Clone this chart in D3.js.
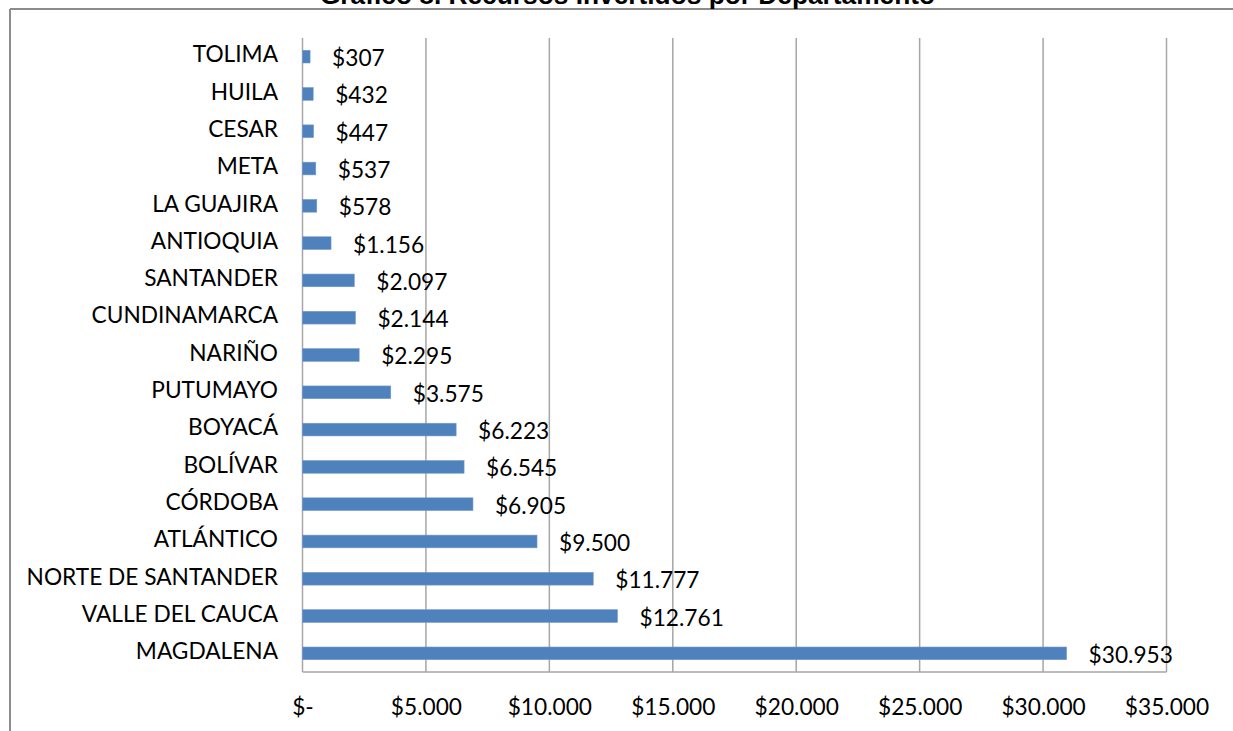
<!DOCTYPE html>
<html><head><meta charset="utf-8">
<script src="https://cdn.jsdelivr.net/npm/d3@7"></script>
<style>body{margin:0;background:#fff}svg{display:block}</style>
</head><body>
<svg id="c" width="1233" height="731"></svg>
<script>
const title = "Gráfico 8. Recursos Invertidos por Departamento";
const categories = ["TOLIMA","HUILA","CESAR","META","LA GUAJIRA","ANTIOQUIA","SANTANDER","CUNDINAMARCA","NARIÑO","PUTUMAYO","BOYACÁ","BOLÍVAR","CÓRDOBA","ATLÁNTICO","NORTE DE SANTANDER","VALLE DEL CAUCA","MAGDALENA"];
const values = [307,432,447,537,578,1156,2097,2144,2295,3575,6223,6545,6905,9500,11777,12761,30953];
const ticks = [0,5000,10000,15000,20000,25000,30000,35000];

const svg = d3.select("#c");
const font = "Lato, 'Open Sans', sans-serif";
const fs = 22.7;
const fmt = v => v === 0 ? "$-" : "$" + d3.format(",")(v).replace(/,/g, ".");

const x = d3.scaleLinear().domain([0, 35000]).range([302.5, 1166.5]);
const y = d3.scaleBand().domain(categories).range([38, 672]).paddingInner(0.66).paddingOuter(0.33);

// outer chart border (top & left visible)
svg.append("line").attr("x1",10).attr("x2",1233).attr("y1",9).attr("y2",9).attr("stroke","#8c8c8c").attr("stroke-width",2);
svg.append("line").attr("x1",10).attr("x2",10).attr("y1",9).attr("y2",731).attr("stroke","#8c8c8c").attr("stroke-width",2);

// title (cut off at top, as in the reference)
svg.append("text").attr("x",627.5).attr("y",4).attr("text-anchor","middle")
  .attr("font-family","Arial, 'Liberation Sans', sans-serif").attr("font-weight","bold").attr("font-size",26.3)
  .attr("fill","#000").text(title);

// gridlines
svg.append("g").selectAll("line").data(ticks).join("line")
  .attr("x1", d => x(d)).attr("x2", d => x(d)).attr("y1", 38).attr("y2", 672)
  .attr("stroke", "#a6a6a6").attr("stroke-width", 1.5);
// bottom axis line
svg.append("line").attr("x1", x(0)).attr("x2", x(35000)).attr("y1", 672).attr("y2", 672)
  .attr("stroke", "#a6a6a6").attr("stroke-width", 1.5);

// x tick labels via axis
const xAxis = d3.axisBottom(x).tickValues(ticks).tickFormat(fmt).tickSize(0).tickPadding(0);
const gx = svg.append("g").attr("transform","translate(0,672)").call(xAxis);
gx.select(".domain").remove();
gx.selectAll("text").attr("font-family", font).attr("font-size", fs).attr("fill","#000")
  .attr("dy", null).attr("y", 42.5);

// y labels via axis
const yAxis = d3.axisLeft(y).tickSize(0).tickPadding(0);
const gy = svg.append("g").attr("transform","translate(278,0)").call(yAxis);
gy.select(".domain").remove();
gy.selectAll("text").attr("font-family", font).attr("font-size", fs).attr("fill","#000")
  .attr("dy", "0.32em").attr("y", -1.5);

// bars
svg.append("g").selectAll("rect").data(values).join("rect")
  .attr("x", x(0)).attr("y", (d,i) => y(categories[i]))
  .attr("width", d => x(d) - x(0)).attr("height", y.bandwidth())
  .attr("fill", "#4f81bd").attr("stroke","#6f99cc").attr("stroke-width",0.6);

// value labels
svg.append("g").selectAll("text").data(values).join("text")
  .attr("x", d => x(d) + 22).attr("y", (d,i) => y(categories[i]) + y.bandwidth()/2 + 1.5)
  .attr("dy","0.35em")
  .attr("font-family", font).attr("font-size", fs).attr("fill","#000")
  .text(fmt);
</script>
</body></html>
